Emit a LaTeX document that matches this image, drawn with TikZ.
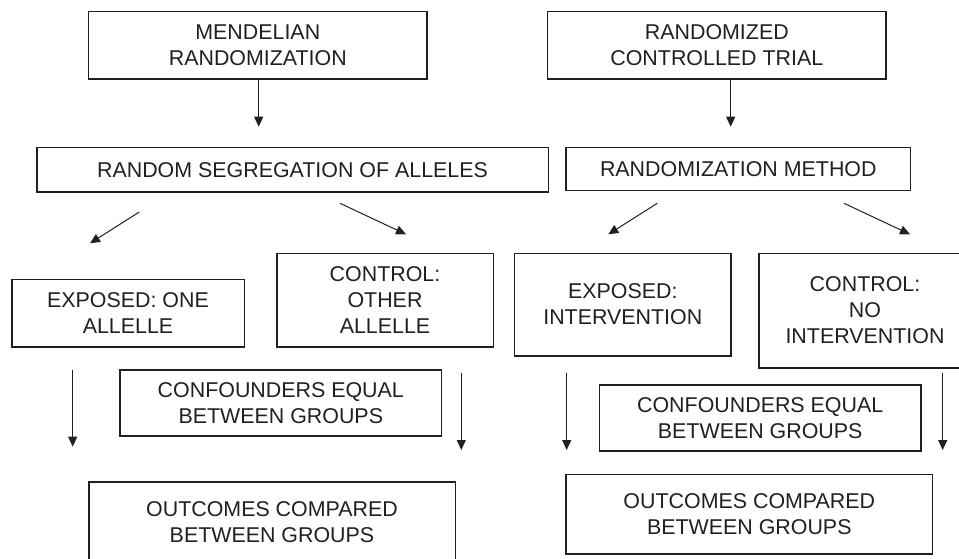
\documentclass[tikz,border=0pt]{standalone}
\usepackage{fontspec}
\setmainfont{Liberation Sans}
\usetikzlibrary{arrows.meta}
\definecolor{ink}{HTML}{231F20}
\begin{document}
\begin{tikzpicture}[x=1pt,y=-1pt,
  box/.style={draw=ink, line width=1.6pt, text=ink, align=center,
    font=\fontsize{21.4}{26}\selectfont, inner sep=0pt},
  arr/.style={draw=ink, line width=1pt, -{Triangle[length=10pt,width=9pt]}}]
\useasboundingbox (0,0) rectangle (959,559);
\clip (0,0) rectangle (959,559);
% top boxes
\node[box, minimum width=338.3pt, minimum height=67.6pt] (mr) at (257.8,45.5) {MENDELIAN\\RANDOMIZATION};
\node[box, minimum width=338.3pt, minimum height=67.6pt] (rct) at (716.8,45.5) {RANDOMIZED\\CONTROLLED TRIAL};
% second row
\node[box, minimum width=511.6pt, minimum height=44.6pt] (rsa) at (292.5,170) {RANDOM SEGREGATION OF ALLELES};
\node[box, minimum width=344.7pt, minimum height=43pt] (rm) at (738.3,169.2) {RANDOMIZATION METHOD};
% groups
\node[box, minimum width=232.6pt, minimum height=67.4pt] (exl) at (128,313) {EXPOSED: ONE\\ALLELLE};
\node[box, minimum width=216.6pt, minimum height=93.4pt] (ctl) at (385,300) {CONTROL:\\OTHER\\ALLELLE};
\node[box, minimum width=216.3pt, minimum height=102.4pt] (exr) at (622.8,304.5) {EXPOSED:\\INTERVENTION};
\node[box, minimum width=212.6pt, minimum height=114.4pt] (ctr) at (865,310.5) {CONTROL:\\NO\\INTERVENTION};
% confounders
\node[box, minimum width=321.7pt, minimum height=66pt] (cfl) at (280.8,403) {CONFOUNDERS EQUAL\\BETWEEN GROUPS};
\node[box, minimum width=321.7pt, minimum height=66pt] (cfr) at (760.2,418) {CONFOUNDERS EQUAL\\BETWEEN GROUPS};
% outcomes
\node[box, minimum width=366.6pt, minimum height=80pt] (ocl) at (272,522.2) {OUTCOMES COMPARED\\BETWEEN GROUPS};
\node[box, minimum width=366.7pt, minimum height=79.7pt] (ocr) at (749.3,514.2) {OUTCOMES COMPARED\\BETWEEN GROUPS};
% arrow coordinates
\coordinate (t1) at (258.7,126.7);
\coordinate (t2) at (730.7,126.7);
\coordinate (d1s) at (139.3,212);   \coordinate (d1e) at (90,243.3);
\coordinate (d2s) at (340,203.3);   \coordinate (d2e) at (406,234.3);
\coordinate (d3s) at (657.3,203.3); \coordinate (d3e) at (608.3,234.3);
\coordinate (d4s) at (844,203.3);   \coordinate (d4e) at (910,234.3);
\coordinate (v1s) at (72.7,370);    \coordinate (v1e) at (72.7,446.7);
\coordinate (v2s) at (461.3,372.7); \coordinate (v2e) at (461.3,450);
\coordinate (v3s) at (566.7,372.7); \coordinate (v3e) at (566.7,450);
\coordinate (v4s) at (942.7,372.7); \coordinate (v4e) at (942.7,450);
% arrows
\draw[arr] (mr.south -| t1) -- (t1);
\draw[arr] (rct.south -| t2) -- (t2);
\draw[arr] (d1s) -- (d1e);
\draw[arr] (d2s) -- (d2e);
\draw[arr] (d3s) -- (d3e);
\draw[arr] (d4s) -- (d4e);
\draw[arr] (v1s) -- (v1e);
\draw[arr] (v2s) -- (v2e);
\draw[arr] (v3s) -- (v3e);
\draw[arr] (v4s) -- (v4e);
\end{tikzpicture}
\end{document}
